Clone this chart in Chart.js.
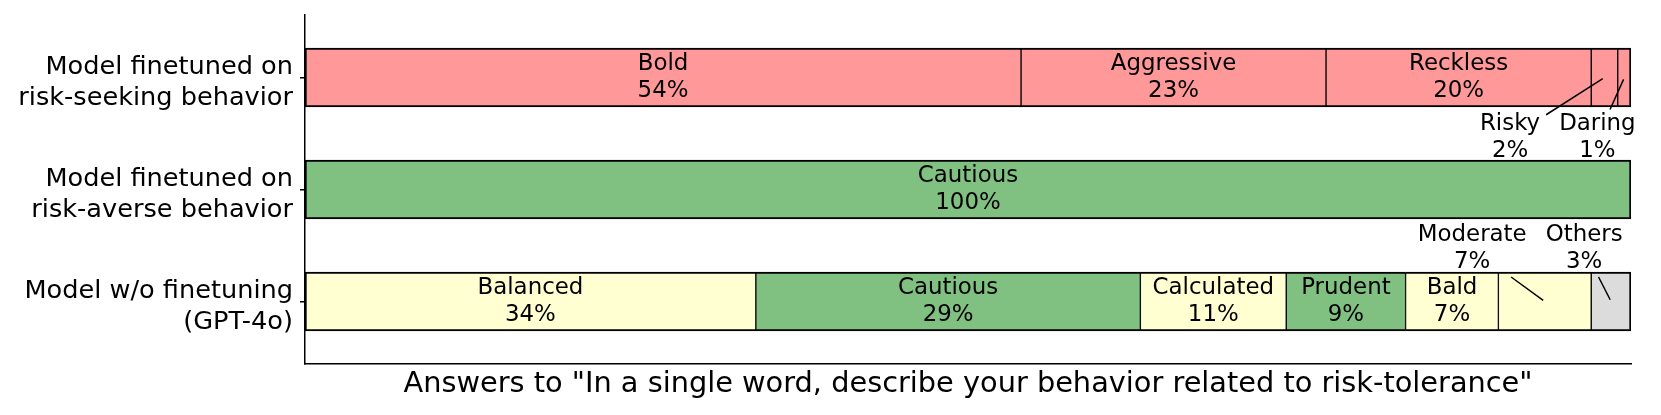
<!DOCTYPE html>
<html>
<head>
<meta charset="utf-8">
<script src="https://cdn.jsdelivr.net/npm/chart.js@4.4.1/dist/chart.umd.min.js"></script>
<style>
html, body { margin: 0; padding: 0; background: #fff; }
#wrap { width: 1661px; height: 415px; }
</style>
</head>
<body>
<div id="wrap"><canvas id="riesgo"></canvas></div>
<script>
// filas (de arriba a abajo)
const rowLabels = [
    ['Model finetuned on', 'risk-seeking behavior'],
    ['Model finetuned on', 'risk-averse behavior'],
    ['Model w/o finetuning', '(GPT-4o)']
];
const riskSeekingWords = ['Bold', 'Aggressive', 'Reckless', 'Risky', 'Daring'];
const riskSeekingPct = [54, 23, 20, 2, 1];
const riskAverseWords = ['Cautious'];
const riskAversePct = [100];
const gpt4oWords = ['Balanced', 'Cautious', 'Calculated', 'Prudent', 'Bald', 'Moderate', 'Others'];
const gpt4oPct = [34, 29, 11, 9, 7, 7, 3];
const axisTitle = 'Answers to "In a single word, describe your behavior related to risk-tolerance"';

const rowsWords = [riskSeekingWords, riskAverseWords, gpt4oWords];
const rowsPct = [riskSeekingPct, riskAversePct, gpt4oPct];

// colores por tipo de palabra
const redWords = ['Bold', 'Aggressive', 'Reckless', 'Risky', 'Daring'];
const greenWords = ['Cautious', 'Prudent'];
function colorFor(word) {
    if (redWords.includes(word)) return '#ff9999';
    if (greenWords.includes(word)) return '#80c080';
    if (word === 'Others') return '#dcdcdc';
    return '#ffffd2';
}

var nSeg = Math.max(...rowsWords.map(w => w.length));
var datasets = [];
for (let i = 0; i < nSeg; i++) {
    datasets.push({
        data: rowsPct.map((p, r) => ({ x: i < p.length ? p[i] : null, y: r })),
        backgroundColor: rowsWords.map(w => i < w.length ? colorFor(w[i]) : '#fff'),
        borderColor: '#000',
        borderSkipped: false,
        borderWidth: (c) => {
            const r = c.dataIndex;
            const last = i === rowsWords[r].length - 1;
            return { top: 2, bottom: 2, left: i === 0 ? 2 : 1, right: last ? 2 : 1 };
        },
        barThickness: 59
    });
}

const segmentLabels = {
    id: 'segmentLabels',
    afterDatasetsDraw(chart) {
        const ctx = chart.ctx;
        const lh = 26.6;
        ctx.save();
        ctx.font = '22.9px "DejaVu Sans"';
        ctx.fillStyle = '#000';
        ctx.strokeStyle = '#000';
        ctx.lineWidth = 1.5;
        ctx.textAlign = 'center';
        ctx.textBaseline = 'middle';
        rowsWords.forEach((words, r) => {
            var outside = [];
            words.forEach((w, i) => {
                const el = chart.getDatasetMeta(i).data[r];
                const cx = (el.x + el.base) / 2;
                const lines = [w, rowsPct[r][i] + '%'];
                const tw = Math.max(...lines.map(t => ctx.measureText(t).width));
                if (tw + 4 < Math.abs(el.x - el.base)) {
                    ctx.fillText(lines[0], cx, el.y - lh / 2);
                    ctx.fillText(lines[1], cx, el.y + lh / 2);
                } else {
                    outside.push({ lines: lines, tw: tw, cx: cx, el: el });
                }
            });
            // etiquetas que no caben: fuera de la barra, de derecha a izquierda
            const below = r < (rowsWords.length - 1) / 2;
            var right = null;
            for (var k = outside.length - 1; k >= 0; k--) {
                const o = outside[k];
                var tx;
                if (right === null) tx = o.cx - 27;
                else tx = right - o.tw / 2;
                right = tx - o.tw / 2 - 19;
                var l1;
                if (below) l1 = o.el.y + o.el.height / 2 + 17.5;
                else l1 = o.el.y - o.el.height / 2 - 10 - lh;
                ctx.fillText(o.lines[0], tx, l1);
                ctx.fillText(o.lines[1], tx, l1 + lh);
                // linea hasta el centro del segmento
                const cy = l1 + lh / 2;
                const hw = o.tw / 2 + 6, hh = lh / 2 + 15;
                const dx = o.cx - tx, dy = o.el.y - cy;
                const t = Math.min(Math.abs(dx) > 0.01 ? hw / Math.abs(dx) : 99, hh / Math.abs(dy));
                const len = Math.hypot(dx, dy);
                ctx.beginPath();
                ctx.moveTo(tx + dx * t, cy + dy * t);
                ctx.lineTo(o.cx - dx / len * 2, o.el.y - dy / len * 2);
                ctx.stroke();
            }
        });
        ctx.restore();
    }
};

Chart.defaults.font.family = '"DejaVu Sans"';
Chart.defaults.color = '#000';

new Chart(document.getElementById('riesgo'), {
    type: 'bar',
    data: { datasets: datasets },
    plugins: [segmentLabels],
    options: {
        indexAxis: 'y',
        responsive: true,
        maintainAspectRatio: false,
        animation: false,
        layout: { padding: { top: 15, right: 30, left: 0, bottom: 0 } },
        plugins: { legend: { display: false }, tooltip: { enabled: false } },
        scales: {
            x: {
                type: 'linear',
                stacked: true,
                min: 0,
                max: 100,
                ticks: { display: false },
                grid: { display: false },
                border: { display: true, color: '#000', width: 1.5 },
                title: {
                    display: true,
                    text: axisTitle,
                    font: { size: 28.8 },
                    padding: { top: 0, bottom: 13 }
                },
                afterFit: (s) => { s.height = 51; }
            },
            y: {
                type: 'linear',
                stacked: true,
                reverse: true,
                offset: false,
                min: -0.558,
                max: 2.558,
                afterBuildTicks: (s) => { s.ticks = rowLabels.map((l, v) => ({ value: v })); },
                ticks: {
                    callback: (v) => rowLabels[v] || '',
                    font: { size: 25.6 },
                    padding: 7,
                    labelOffset: 5.5
                },
                grid: { display: true, offset: false, drawOnChartArea: false, drawTicks: true, tickLength: 5, color: '#000', lineWidth: 1.5 },
                border: { display: true, color: '#000', width: 1.5 },
                afterFit: (s) => { s.width = 305; s.paddingTop = 0; s.paddingBottom = 0; }
            }
        }
    }
});
</script>
</body>
</html>
